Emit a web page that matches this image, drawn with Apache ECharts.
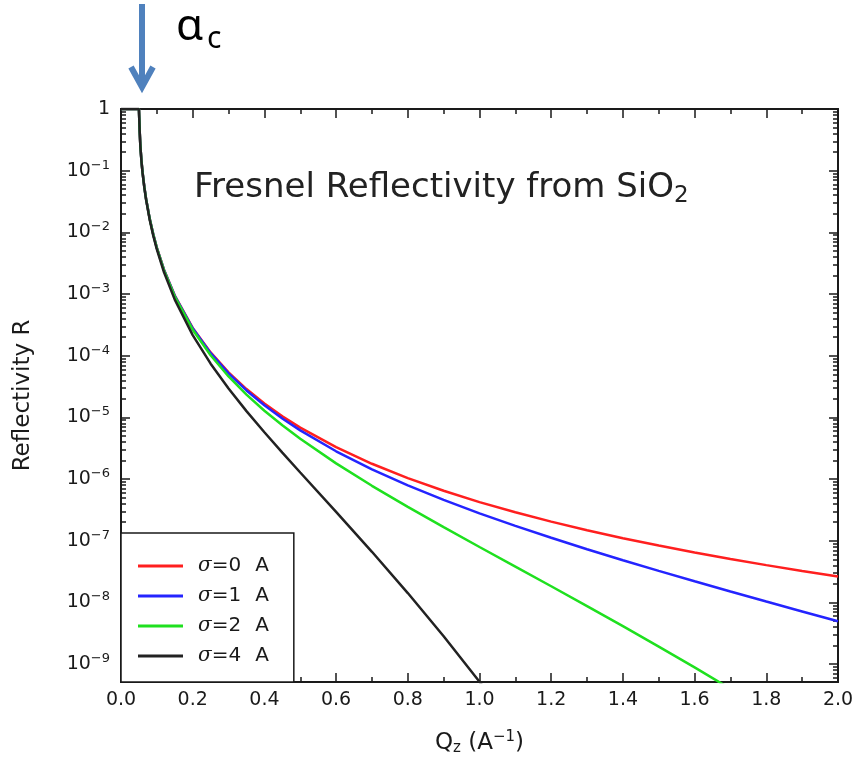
<!DOCTYPE html>
<html>
<head>
<meta charset="utf-8">
<script src="https://cdn.jsdelivr.net/npm/echarts@6/dist/echarts.min.js"></script>
<style>
  html, body { margin: 0; padding: 0; background: #ffffff; }
  #chart { width: 859px; height: 775px; }
</style>
</head>
<body>
<div id="chart"></div>
<script>
// Momentum transfer Qz (1/Å)
const qz = [0, 0.02, 0.04, 0.05, 0.051, 0.052, 0.054, 0.057, 0.06, 0.065, 0.07, 0.08, 0.09, 0.1,
  0.12, 0.15, 0.2, 0.25, 0.3, 0.35, 0.4, 0.45, 0.5, 0.6, 0.7, 0.8, 0.9, 1.0, 1.1, 1.2, 1.3, 1.4,
  1.5, 1.6, 1.7, 1.8, 1.9, 2.0];

// log10 of reflectivity for each interface roughness
const logR_sigma0 = [0, 0, 0, 0, 0, -0.343, -0.593, -0.835, -1.018, -1.259, -1.457, -1.775, -2.031, -2.248,
  -2.606, -3.025, -3.549, -3.947, -4.270, -4.541, -4.775, -4.981, -5.165, -5.483, -5.752, -5.984, -6.189, -6.373,
  -6.538, -6.690, -6.830, -6.958, -7.078, -7.190, -7.296, -7.395, -7.489, -7.578];
const logR_sigma1 = [0, 0, 0, 0, 0, -0.343, -0.594, -0.836, -1.019, -1.260, -1.458, -1.776, -2.032, -2.250,
  -2.609, -3.029, -3.556, -3.958, -4.286, -4.563, -4.804, -5.018, -5.211, -5.549, -5.841, -6.101, -6.336, -6.555,
  -6.758, -6.952, -7.138, -7.315, -7.488, -7.656, -7.822, -7.985, -8.146, -8.306];
const logR_sigma2 = [0, 0, 0, 0, 0, -0.345, -0.595, -0.837, -1.021, -1.262, -1.461, -1.780, -2.037, -2.255,
  -2.617, -3.041, -3.578, -3.993, -4.336, -4.630, -4.892, -5.128, -5.347, -5.745, -6.109, -6.450, -6.779, -7.101,
  -7.419, -7.738, -8.060, -8.385, -8.716, -9.054, -9.400, -9.754, -10.117, -10.490];
const logR_sigma4 = [0, 0, 0, 0, 0, -0.351, -0.601, -0.845, -1.029, -1.271, -1.471, -1.794, -2.055, -2.277,
  -2.648, -3.091, -3.666, -4.129, -4.532, -4.898, -5.241, -5.571, -5.893, -6.531, -7.179, -7.848, -8.548, -9.285,
  -10.062];

const seriesNames = ['σ=0 A', 'σ=1 A', 'σ=2 A', 'σ=4 A'];
const seriesColors = ['#ff1f1f', '#2424ff', '#1fe01f', '#222222'];
const xTickLabels = ['0.0', '0.2', '0.4', '0.6', '0.8', '1.0', '1.2', '1.4', '1.6', '1.8', '2.0'];
const decadeExponents = [-9, -8, -7, -6, -5, -4, -3, -2, -1, 0];

const LOG_MIN = -9.29;
const FONT = 'DejaVu Sans';
const INK = '#1a1a1a';

// minor log ticks (2..9 × 10^n) inside the plotted range
const minorLogTicks = [];
for (let n = -10; n < 0; n++) {
  for (let k = 2; k <= 9; k++) {
    const v = n + Math.log10(k);
    if (v >= LOG_MIN && v <= 0) minorLogTicks.push(v);
  }
}

function pairs(logs) {
  return logs.map((v, i) => [qz[i], v]);
}
const allLogs = [logR_sigma0, logR_sigma1, logR_sigma2, logR_sigma4];

function decadeLabel(v) {
  const n = Math.round(v);
  if (n === 0) return '1';
  return '10{s|−' + (-n) + '}';
}

const tickLine = { color: INK, width: 1.5 };

function yAxisBase(position, major, withLabels) {
  return {
    type: 'value', position: position, min: LOG_MIN, max: 0,
    splitLine: { show: false },
    axisLine: { show: true, onZero: false, lineStyle: { color: INK, width: 2 } },
    axisTick: {
      show: true, inside: true, length: major ? 9 : 5,
      customValues: major ? decadeExponents : minorLogTicks,
      lineStyle: tickLine
    },
    axisLabel: withLabels ? {
      show: true, customValues: decadeExponents, formatter: decadeLabel,
      margin: 11, fontFamily: FONT, fontSize: 19, color: INK,
      rich: { s: { fontFamily: FONT, fontSize: 13, color: INK, padding: [0, 0, 11, 0] } }
    } : { show: false }
  };
}

const yAxes = [
  Object.assign(yAxisBase('left', true, true), {
    name: 'Reflectivity R', nameLocation: 'middle', nameGap: 86, nameRotate: 90,
    nameTextStyle: { fontFamily: FONT, fontSize: 23, color: INK }
  }),
  yAxisBase('left', false, false),
  yAxisBase('right', true, false),
  yAxisBase('right', false, false)
];

function xAxisBase(position, withLabels) {
  return {
    type: 'value', position: position, min: 0, max: 2, interval: 0.2,
    splitLine: { show: false },
    axisLine: { show: true, onZero: false, lineStyle: { color: INK, width: 2 } },
    axisTick: { show: true, inside: true, length: 9, lineStyle: tickLine },
    minorTick: { show: true, splitNumber: 2, length: 5, lineStyle: tickLine },
    minorSplitLine: { show: false },
    axisLabel: withLabels ? {
      show: true, margin: 9, fontFamily: FONT, fontSize: 19, color: INK,
      formatter: (v) => xTickLabels[Math.round(v / 0.2)]
    } : { show: false }
  };
}

const xAxes = [
  Object.assign(xAxisBase('bottom', true), {
    name: 'Q{z|z} (A{s|−1})', nameLocation: 'middle', nameGap: 48,
    nameTextStyle: {
      fontFamily: FONT, fontSize: 23, color: INK,
      rich: {
        z: { fontFamily: FONT, fontSize: 15, color: INK, padding: [10, 0, 0, 0] },
        s: { fontFamily: FONT, fontSize: 15, color: INK, padding: [0, 0, 12, 0] }
      }
    }
  }),
  xAxisBase('top', false)
];

const series = seriesNames.map((name, i) => ({
  name: name,
  type: 'line',
  xAxisIndex: 0,
  yAxisIndex: 0,
  symbol: 'none',
  clip: true,
  smooth: false,
  lineStyle: { color: seriesColors[i], width: 2.5 },
  itemStyle: { color: seriesColors[i] },
  data: pairs(allLogs[i]),
  z: 2 + i
}));

const ARROW = '#4f81bd';

// legend text: italic sigma, value, then the unit set a little apart
function legendText(name) {
  const parts = name.slice(1).split(' ');
  return '{i|σ}{t|' + parts[0] + '}{a|' + parts[1] + '}';
}

const option = {
  animation: false,
  backgroundColor: '#ffffff',
  grid: { left: 121, right: 21, top: 109, bottom: 93, containLabel: false, outerBoundsMode: 'none' },
  title: {
    text: 'Fresnel Reflectivity from SiO{sub|2}',
    left: 189, top: 164,
    textStyle: {
      fontFamily: FONT, fontSize: 34, fontWeight: 'normal', color: '#222',
      rich: { sub: { fontFamily: FONT, fontSize: 23, color: '#222', padding: [16, 0, 0, 0] } }
    }
  },
  legend: {
    orient: 'vertical', left: 121, top: 533,
    padding: [22, 25, 15, 17],
    icon: 'rect',
    itemWidth: 45, itemHeight: 3, itemGap: 8,
    itemStyle: { borderWidth: 0 },
    backgroundColor: '#ffffff', borderColor: INK, borderWidth: 1.5,
    selectedMode: false,
    data: seriesNames,
    formatter: legendText,
    textStyle: {
      fontFamily: FONT, fontSize: 20, color: INK, lineHeight: 22,
      rich: {
        i: { fontFamily: 'DejaVu Serif', fontStyle: 'italic', fontSize: 20, color: INK, lineHeight: 22, padding: [0, 0, 0, 10] },
        t: { fontFamily: FONT, fontSize: 20, color: INK, lineHeight: 22 },
        a: { fontFamily: FONT, fontSize: 20, color: INK, lineHeight: 22, padding: [0, 0, 0, 14] }
      }
    }
  },
  xAxis: xAxes,
  yAxis: yAxes,
  series: series,
  graphic: [
    { type: 'line', shape: { x1: 142, y1: 4, x2: 142, y2: 86 },
      style: { stroke: ARROW, lineWidth: 6 } },
    { type: 'polyline', shape: { points: [[131, 67], [142, 87], [153, 67]] },
      style: { stroke: ARROW, lineWidth: 6, fill: null, lineJoin: 'miter' } },
    { type: 'text', left: 176, top: 5,
      style: { text: 'α', fontFamily: 'Noto Sans', fontSize: 44, fill: '#000' } },
    { type: 'text', left: 207, top: 24,
      style: { text: 'c', fontFamily: 'Noto Sans', fontSize: 30, fill: '#000' } }
  ]
};

const chart = echarts.init(document.getElementById('chart'));
chart.setOption(option);
</script>
</body>
</html>
